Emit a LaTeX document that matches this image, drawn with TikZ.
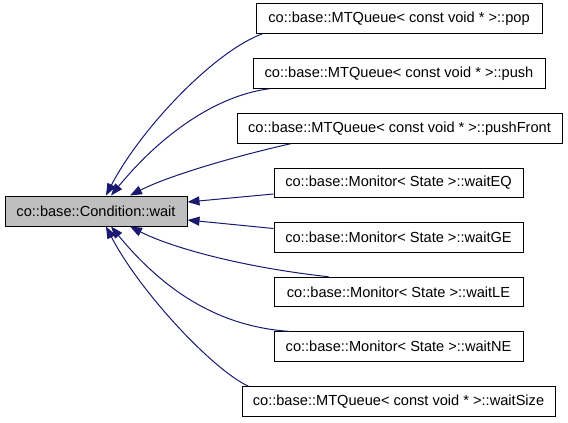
\documentclass[tikz,border=0pt]{standalone}
\usepackage{fontspec}
\setmainfont{Liberation Sans}
\usetikzlibrary{arrows.meta}
\definecolor{edgeblue}{HTML}{191970}
\definecolor{boxgray}{HTML}{BFBFBF}
\begin{document}
\begin{tikzpicture}[x=1pt,y=-1pt,
  box/.style={draw=black,line width=1pt,fill=white,inner sep=0pt,minimum height=29.5pt,
    font=\fontsize{14.6pt}{17pt}\selectfont},
  edge/.style={draw=edgeblue,line width=1pt,-{Triangle[length=12pt,width=9pt]}}]
\useasboundingbox (0,0) rectangle (568,423);
\node[box,fill=boxgray,minimum width=182pt,minimum height=30pt] (wait) at (96,211) {co::base::Condition::wait};
\node[box,minimum width=286pt] (pop) at (399,18.5) {co::base::MTQueue< const void * >::pop};
\node[box,minimum width=292pt] (push) at (399,73.5) {co::base::MTQueue< const void * >::push};
\node[box,minimum width=325pt] (pushFront) at (399.5,128.3) {co::base::MTQueue< const void * >::pushFront};
\node[box,minimum width=249pt] (waitEQ) at (398.5,183) {co::base::Monitor< State >::waitEQ};
\node[box,minimum width=249pt] (waitGE) at (398.5,237.5) {co::base::Monitor< State >::waitGE};
\node[box,minimum width=249pt] (waitLE) at (398.5,292) {co::base::Monitor< State >::waitLE};
\node[box,minimum width=249pt] (waitNE) at (398.5,346.7) {co::base::Monitor< State >::waitNE};
\node[box,minimum width=313pt] (waitSize) at (398.5,401.5) {co::base::MTQueue< const void * >::waitSize};

\draw[edge] ([xshift=7pt]pop.south west) .. controls (213,52) and (140,130) .. ([xshift=10pt]wait.north);
\draw[edge] ([xshift=17pt]push.south west) .. controls (220,95) and (165,130) .. ([xshift=15pt]wait.north);
\draw[edge] ([xshift=55pt]pushFront.south west) .. controls (240,155) and (170,175) .. ([xshift=34pt]wait.north);
\draw[edge] ([yshift=-11pt]waitEQ.west) -- ([yshift=9pt]wait.east);
\draw[edge] ([yshift=9pt]waitGE.west) -- ([yshift=-9pt]wait.east);
\draw[edge] ([xshift=55pt]waitLE.north west) .. controls (240,267) and (170,247) .. ([xshift=34pt]wait.south);
\draw[edge] ([xshift=17pt]waitNE.north west) .. controls (220,327) and (165,292) .. ([xshift=15pt]wait.south);
\draw[edge] ([xshift=7pt]waitSize.north west) .. controls (213,370) and (140,292) .. ([xshift=10pt]wait.south);
\end{tikzpicture}
\end{document}
